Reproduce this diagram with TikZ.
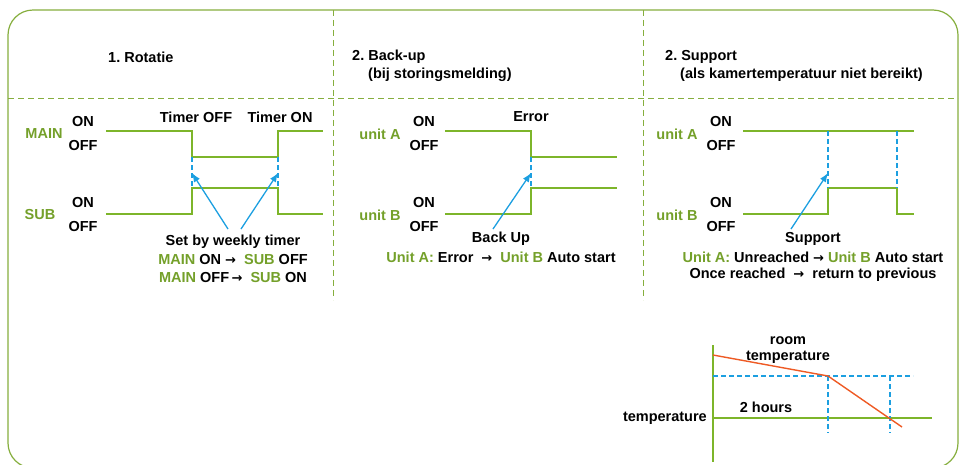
\documentclass[tikz,border=0pt]{standalone}
\usepackage{fontspec}
\setmainfont{Liberation Sans}
\newfontfamily\arrfont{DejaVu Sans}
\usetikzlibrary{arrows.meta}
\definecolor{boxgreen}{HTML}{86AE3E}
\definecolor{siggreen}{HTML}{7DB52A}
\definecolor{txtgreen}{HTML}{74A02A}
\definecolor{arrblue}{HTML}{1C9FE0}
\definecolor{tempred}{HTML}{EE5A24}
\newcommand{\gr}[1]{{\color{txtgreen}#1}}
\newcommand{\ra}{{\arrfont\fontsize{13}{13}\selectfont\bfseries →}}
\frenchspacing
\begin{document}
\begin{tikzpicture}[x=1pt, y=-1pt,
    every node/.style={font=\fontsize{14.5}{17}\selectfont\bfseries, inner sep=0pt},
    frame/.style={boxgreen, line width=1.2pt, rounded corners=25pt},
    divider/.style={boxgreen, line width=1pt, dash pattern=on 6pt off 4pt},
    sig/.style={siggreen, line width=1.6pt},
    guide/.style={arrblue, line width=1.3pt, dash pattern=on 5pt off 3pt},
    pointer/.style={arrblue, line width=1.3pt, -{Latex[length=9pt,width=7pt]}},
    temp/.style={tempred, line width=1.4pt},
    lbl/.style={txtgreen}]
  \useasboundingbox (0,0) rectangle (960,464);
  \begin{scope}
    \clip (0,0) rectangle (960,464);
    \draw[frame] (8,10) rectangle (958,468);
  \end{scope}
  \coordinate (d1t) at (333,10);
  \coordinate (d1b) at (333,300);
  \coordinate (d2t) at (643,10);
  \coordinate (d2b) at (643,300);
  \coordinate (hl) at (8,98);
  \coordinate (hr) at (958,98);
  \draw[divider] (d1t) -- (d1b);
  \draw[divider] (d2t) -- (d2b);
  \draw[divider] (hl) -- (hr);
  % titles
  \node[anchor=west] (title1) at (108,57) {1. Rotatie};
  \node[anchor=west] (title2) at (352,57) {2. Back-up};
  \node[anchor=west] (title2b) at (368,75) {(bij storingsmelding)};
  \node[anchor=west] (title3) at (665,57) {2. Support};
  \node[anchor=west] (title3b) at (680,75) {(als kamertemperatuur niet bereikt)};
  % rotatie
  \node[lbl] (main) at (44,134) {MAIN};
  \node (mainon) at (83,122) {ON};
  \node (mainoff) at (83,146) {OFF};
  \node[lbl] (sub) at (40,215) {SUB};
  \node (subon) at (83,203) {ON};
  \node (suboff) at (83,227) {OFF};
  \coordinate (m1) at (106,131);
  \coordinate (m2) at (192,131);
  \coordinate (m3) at (192,157);
  \coordinate (m4) at (278,157);
  \coordinate (m5) at (278,131);
  \coordinate (m6) at (323,131);
  \draw[sig] (m1) -- (m2) -- (m3) -- (m4) -- (m5) -- (m6);
  \coordinate (s1) at (106,214);
  \coordinate (s2) at (192,214);
  \coordinate (s3) at (192,188);
  \coordinate (s4) at (278,188);
  \coordinate (s5) at (278,214);
  \coordinate (s6) at (323,214);
  \draw[sig] (s1) -- (s2) -- (s3) -- (s4) -- (s5) -- (s6);
  \draw[guide] (m3) -- (s3);
  \draw[guide] (m4) -- (s4);
  \node (toff) at (196,117) {Timer OFF};
  \node (ton) at (280,117) {Timer ON};
  \node (weekly) at (233,242) {Set by weekly timer};
  \node (rule1) at (233,260) {\gr{MAIN} ON \ra\ \ \gr{SUB} OFF};
  \node (rule2) at (233,278) {\gr{MAIN} OFF\,\ra\ \ \gr{SUB} ON};
  \coordinate (p1) at (192,173);
  \coordinate (p2) at (278,173);
  \coordinate (w1) at (228,229);
  \coordinate (w2) at (241,229);
  \draw[pointer] (w1) -- (p1);
  \draw[pointer] (w2) -- (p2);
  % back-up
  \node[lbl] (ua2) at (380,134) {unit A};
  \node (ua2on) at (424,122) {ON};
  \node (ua2off) at (424,146) {OFF};
  \node[lbl] (ub2) at (380,215) {unit B};
  \node (ub2on) at (424,203) {ON};
  \node (ub2off) at (424,227) {OFF};
  \coordinate (a1) at (445,131);
  \coordinate (a2) at (531,131);
  \coordinate (a3) at (531,157);
  \coordinate (a4) at (617,157);
  \draw[sig] (a1) -- (a2) -- (a3) -- (a4);
  \coordinate (b1) at (445,214);
  \coordinate (b2) at (531,214);
  \coordinate (b3) at (531,188);
  \coordinate (b4) at (617,188);
  \draw[sig] (b1) -- (b2) -- (b3) -- (b4);
  \draw[guide] (a3) -- (b3);
  \node (error) at (531,117) {Error};
  \node (backup) at (501,239) {Back Up};
  \node (rule3) at (501,257) {\gr{Unit A:} Error \ \ra\ \ \gr{Unit B} Auto start};
  \coordinate (p3) at (531,173);
  \coordinate (w3) at (493,229);
  \draw[pointer] (w3) -- (p3);
  % support
  \node[lbl] (ua3) at (677,134) {unit A};
  \node (ua3on) at (721,122) {ON};
  \node (ua3off) at (721,146) {OFF};
  \node[lbl] (ub3) at (677,215) {unit B};
  \node (ub3on) at (721,203) {ON};
  \node (ub3off) at (721,227) {OFF};
  \coordinate (c1) at (743,131);
  \coordinate (c2) at (914,131);
  \draw[sig] (c1) -- (c2);
  \coordinate (e1) at (743,214);
  \coordinate (e2) at (828,214);
  \coordinate (e3) at (828,188);
  \coordinate (e4) at (897,188);
  \coordinate (e5) at (897,214);
  \coordinate (e6) at (914,214);
  \draw[sig] (e1) -- (e2) -- (e3) -- (e4) -- (e5) -- (e6);
  \coordinate (g1) at (828,131);
  \coordinate (g2) at (897,131);
  \draw[guide] (g1) -- (e3);
  \draw[guide] (g2) -- (e4);
  \node (support) at (813,239) {Support};
  \node (rule4) at (813,257) {\gr{Unit A:} Unreached \ra\ \gr{Unit B} Auto start};
  \node (rule5) at (813,275) {Once reached \ \ra\ \ return to previous};
  \coordinate (p4) at (828,173);
  \coordinate (w4) at (791,229);
  \draw[pointer] (w4) -- (p4);
  % temperature chart
  \coordinate (ax1) at (713,345);
  \coordinate (ax2) at (713,462);
  \coordinate (base1) at (713,418);
  \coordinate (base2) at (932,418);
  \draw[sig] (ax1) -- (ax2);
  \draw[sig] (base1) -- (base2);
  \coordinate (room1) at (713,376);
  \coordinate (room2) at (913,376);
  \coordinate (v1t) at (828,376);
  \coordinate (v1b) at (828,433);
  \coordinate (v2t) at (890,376);
  \coordinate (v2b) at (890,433);
  \draw[guide] (room1) -- (room2);
  \draw[guide] (v1t) -- (v1b);
  \draw[guide] (v2t) -- (v2b);
  \coordinate (t1) at (713,355);
  \coordinate (t2) at (828,376);
  \coordinate (t3) at (902,427);
  \draw[temp] (t1) -- (t2) -- (t3);
  \node (room) at (788,341) {room};
  \node (roomtemp) at (788,357) {temperature};
  \node (hours) at (766,407) {2 hours};
  \node[anchor=east] (tempax) at (707,418) {temperature};
\end{tikzpicture}
\end{document}
